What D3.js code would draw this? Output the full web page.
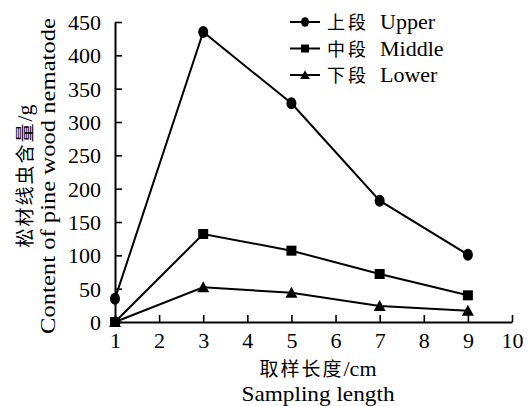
<!DOCTYPE html>
<html><head><meta charset="utf-8">
<script src="https://cdn.jsdelivr.net/npm/d3@7"></script>
<style>body{margin:0;background:#fff}svg{display:block}</style>
</head><body>
<svg id="c" width="532" height="406"></svg>
<script>
const xValues = [1, 3, 5, 7, 9];
const upper = [35, 435, 328, 182, 101];
const middle = [0, 132, 107, 72, 40];
const lower = [0, 52, 44, 24, 17];
const seriesCn = ["上段", "中段", "下段"];
const seriesEn = ["Upper", "Middle", "Lower"];
const xTicks = [1,2,3,4,5,6,7,8,9,10];
const yTicks = [0,50,100,150,200,250,300,350,400,450];

const svg = d3.select("#c");
const serif = "'Liberation Serif','Times New Roman',serif";
const cjk = "'Noto Sans CJK SC',sans-serif";
const x = d3.scaleLinear().domain([1,10]).range([115,512]);
const y = d3.scaleLinear().domain([0,450]).range([322,22]);

// axes
const xa = svg.append("g").attr("transform","translate(0,"+y(0)+")")
  .call(d3.axisBottom(x).tickValues(xTicks).tickSizeInner(-7).tickSizeOuter(0).tickPadding(10));
const ya = svg.append("g").attr("transform","translate("+x(1)+",0)")
  .call(d3.axisLeft(y).tickValues(yTicks).tickSizeInner(-7).tickSizeOuter(0).tickPadding(14));
[xa,ya].forEach(a=>{
  a.selectAll("path").attr("stroke","#000").attr("stroke-width",2);
  a.selectAll("line").attr("stroke","#000").attr("stroke-width",1.6);
  a.selectAll("text").attr("font-family",serif).attr("font-size",22).attr("fill","#000");
});
ya.selectAll("text").attr("dy","0.34em");

const data = [upper, middle, lower];
const line = d3.line().x((d,i)=>x(xValues[i])).y(d=>y(d));
data.forEach(s=>{
  svg.append("path").attr("d",line(s)).attr("fill","none").attr("stroke","#000").attr("stroke-width",2);
});
function marker(g,type,cx,cy,s){
  if(type===0) g.append("ellipse").attr("cx",cx).attr("cy",cy).attr("rx",5*s).attr("ry",6*s).attr("fill","#000");
  else if(type===1) g.append("rect").attr("x",cx-5*s).attr("y",cy-5*s).attr("width",10*s).attr("height",10*s).attr("fill","#000");
  else g.append("path").attr("d",`M${cx},${cy-6*s}L${cx+6*s},${cy+5*s}L${cx-6*s},${cy+5*s}Z`).attr("fill","#000");
}
data.forEach((s,k)=>{
  s.forEach((v,i)=>marker(svg,k,x(xValues[i]),y(v),1));
});

// legend
const legY = [22,48.5,75];
seriesCn.forEach((n,k)=>{
  const g = svg.append("g");
  g.append("line").attr("x1",290).attr("x2",320).attr("y1",legY[k]).attr("y2",legY[k]).attr("stroke","#000").attr("stroke-width",2);
  marker(g,k,305,legY[k],0.8);
  g.append("text").attr("x",327).attr("y",legY[k]+7).attr("font-size",18).attr("letter-spacing",3).attr("font-family",cjk).attr("fill","#000").text(n);
  g.append("text").attr("x",380).attr("y",legY[k]+7).attr("font-size",22).attr("font-family",serif).attr("fill","#000").text(seriesEn[k]);
});

// axis titles
svg.append("text").attr("x",318).attr("y",376).attr("text-anchor","middle").attr("fill","#000")
  .call(t=>{t.append("tspan").attr("font-family",cjk).attr("font-size",19).attr("letter-spacing",2).text("取样长度");
            t.append("tspan").attr("font-family",serif).attr("font-size",22).text("/cm");});
svg.append("text").attr("x",318).attr("y",401).attr("text-anchor","middle").attr("font-size",22).attr("font-family",serif).attr("fill","#000")
  .attr("textLength",153).attr("lengthAdjust","spacingAndGlyphs").text("Sampling length");
svg.append("text").attr("transform","translate(32,176) rotate(-90)").attr("text-anchor","middle").attr("fill","#000")
  .call(t=>{t.append("tspan").attr("font-family",cjk).attr("font-size",19).attr("letter-spacing",2).text("松材线虫含量");
            t.append("tspan").attr("font-family",serif).attr("font-size",22).text("/g");});
svg.append("text").attr("transform","translate(55,176) rotate(-90)").attr("text-anchor","middle").attr("font-size",22).attr("font-family",serif).attr("fill","#000")
  .attr("textLength",316).attr("lengthAdjust","spacingAndGlyphs").text("Content of pine wood nematode");
</script>
</body></html>
